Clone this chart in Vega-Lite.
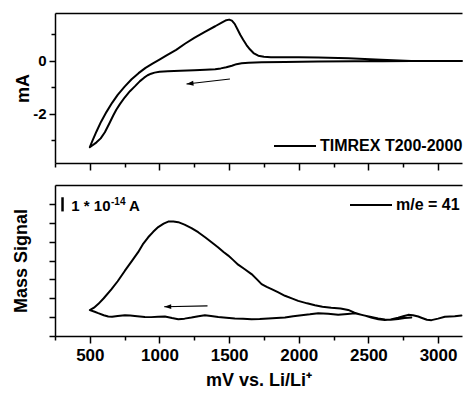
{
  "$schema": "https://vega.github.io/schema/vega-lite/v6.json",
  "padding": {"left": 12, "top": 13, "right": 0, "bottom": 2},
  "background": "white",
  "config": {
    "view": {"stroke": null},
    "font": "Liberation Sans",
    "axis": {
      "domainColor": "black", "domainWidth": 1.5, "tickColor": "black", "tickWidth": 1.5,
      "labelColor": "black", "labelFont": "Liberation Sans", "labelFontWeight": "bold",
      "titleFont": "Liberation Sans", "titleFontWeight": "bold", "titleColor": "black", "grid": false
    },
    "legend": {
      "symbolType": "stroke", "symbolStrokeWidth": 2, "symbolSize": 1764, "symbolStrokeColor": "black",
      "labelFont": "Liberation Sans", "labelFontWeight": "bold", "labelFontSize": 16, "labelColor": "black",
      "padding": 0, "labelOffset": 3
    }
  },
  "datasets": {
    "cv": [
      {"mV": 3172, "mA": 0.0}, {"mV": 3000, "mA": 0.0}, {"mV": 2808, "mA": 0.0}, {"mV": 2600, "mA": -0.01},
      {"mV": 2400, "mA": -0.01}, {"mV": 2140, "mA": -0.02}, {"mV": 1900, "mA": -0.04}, {"mV": 1733, "mA": -0.05},
      {"mV": 1640, "mA": -0.07}, {"mV": 1590, "mA": -0.09}, {"mV": 1553, "mA": -0.12}, {"mV": 1520, "mA": -0.18},
      {"mV": 1480, "mA": -0.24}, {"mV": 1440, "mA": -0.28}, {"mV": 1400, "mA": -0.31}, {"mV": 1330, "mA": -0.33},
      {"mV": 1250, "mA": -0.35}, {"mV": 1150, "mA": -0.37}, {"mV": 1060, "mA": -0.39}, {"mV": 1000, "mA": -0.41},
      {"mV": 965, "mA": -0.44}, {"mV": 940, "mA": -0.48}, {"mV": 915, "mA": -0.54}, {"mV": 890, "mA": -0.63},
      {"mV": 860, "mA": -0.76}, {"mV": 825, "mA": -0.95}, {"mV": 788, "mA": -1.14}, {"mV": 750, "mA": -1.38},
      {"mV": 716, "mA": -1.63}, {"mV": 690, "mA": -1.84}, {"mV": 668, "mA": -2.06}, {"mV": 640, "mA": -2.36},
      {"mV": 608, "mA": -2.69}, {"mV": 578, "mA": -2.92}, {"mV": 548, "mA": -3.07}, {"mV": 520, "mA": -3.18},
      {"mV": 500, "mA": -3.25},
      {"mV": 520, "mA": -3.0}, {"mV": 548, "mA": -2.66}, {"mV": 580, "mA": -2.3}, {"mV": 620, "mA": -1.92},
      {"mV": 660, "mA": -1.58}, {"mV": 700, "mA": -1.28}, {"mV": 750, "mA": -0.97}, {"mV": 800, "mA": -0.69},
      {"mV": 850, "mA": -0.46}, {"mV": 900, "mA": -0.26}, {"mV": 950, "mA": -0.1}, {"mV": 1000, "mA": 0.05},
      {"mV": 1051, "mA": 0.21}, {"mV": 1120, "mA": 0.42}, {"mV": 1183, "mA": 0.65}, {"mV": 1250, "mA": 0.87},
      {"mV": 1326, "mA": 1.1}, {"mV": 1400, "mA": 1.31}, {"mV": 1450, "mA": 1.46}, {"mV": 1480, "mA": 1.54},
      {"mV": 1500, "mA": 1.56}, {"mV": 1520, "mA": 1.52}, {"mV": 1540, "mA": 1.4}, {"mV": 1560, "mA": 1.2},
      {"mV": 1580, "mA": 0.99}, {"mV": 1601, "mA": 0.8}, {"mV": 1625, "mA": 0.6}, {"mV": 1649, "mA": 0.44},
      {"mV": 1675, "mA": 0.3}, {"mV": 1709, "mA": 0.2}, {"mV": 1750, "mA": 0.16}, {"mV": 1800, "mA": 0.14},
      {"mV": 1900, "mA": 0.14}, {"mV": 2000, "mA": 0.14}, {"mV": 2140, "mA": 0.13}, {"mV": 2355, "mA": 0.1},
      {"mV": 2592, "mA": 0.05}, {"mV": 2808, "mA": 0.0}
    ],
    "ms": [
      {"mV": 3168, "sig": 1.08}, {"mV": 3120, "sig": 1.05}, {"mV": 3049, "sig": 1.02}, {"mV": 3000, "sig": 0.92},
      {"mV": 2953, "sig": 0.84}, {"mV": 2920, "sig": 0.86}, {"mV": 2880, "sig": 0.97}, {"mV": 2858, "sig": 1.03},
      {"mV": 2820, "sig": 1.1}, {"mV": 2786, "sig": 1.12}, {"mV": 2750, "sig": 1.05}, {"mV": 2714, "sig": 0.97},
      {"mV": 2660, "sig": 0.88}, {"mV": 2618, "sig": 0.85}, {"mV": 2571, "sig": 0.89}, {"mV": 2520, "sig": 0.98},
      {"mV": 2475, "sig": 1.08}, {"mV": 2403, "sig": 1.2}, {"mV": 2350, "sig": 1.17}, {"mV": 2283, "sig": 1.12},
      {"mV": 2211, "sig": 1.18}, {"mV": 2140, "sig": 1.21}, {"mV": 2080, "sig": 1.15}, {"mV": 2020, "sig": 1.1},
      {"mV": 1960, "sig": 1.05}, {"mV": 1901, "sig": 0.98}, {"mV": 1840, "sig": 0.95}, {"mV": 1781, "sig": 0.93},
      {"mV": 1720, "sig": 0.9}, {"mV": 1661, "sig": 0.89}, {"mV": 1600, "sig": 0.91}, {"mV": 1541, "sig": 0.93},
      {"mV": 1480, "sig": 0.97}, {"mV": 1422, "sig": 1.01}, {"mV": 1370, "sig": 1.06}, {"mV": 1326, "sig": 1.1},
      {"mV": 1280, "sig": 1.05}, {"mV": 1230, "sig": 0.98}, {"mV": 1180, "sig": 0.92}, {"mV": 1135, "sig": 0.89},
      {"mV": 1090, "sig": 0.95}, {"mV": 1039, "sig": 1.03}, {"mV": 990, "sig": 1.02}, {"mV": 940, "sig": 1.0},
      {"mV": 895, "sig": 1.01}, {"mV": 840, "sig": 1.05}, {"mV": 790, "sig": 1.08}, {"mV": 752, "sig": 1.1},
      {"mV": 700, "sig": 1.06}, {"mV": 660, "sig": 1.02}, {"mV": 632, "sig": 1.03}, {"mV": 600, "sig": 1.1},
      {"mV": 560, "sig": 1.21}, {"mV": 530, "sig": 1.3}, {"mV": 500, "sig": 1.37},
      {"mV": 530, "sig": 1.5}, {"mV": 560, "sig": 1.69}, {"mV": 600, "sig": 2.0}, {"mV": 656, "sig": 2.48},
      {"mV": 700, "sig": 2.9}, {"mV": 752, "sig": 3.46}, {"mV": 800, "sig": 3.95}, {"mV": 847, "sig": 4.44},
      {"mV": 880, "sig": 4.85}, {"mV": 919, "sig": 5.23}, {"mV": 955, "sig": 5.52}, {"mV": 991, "sig": 5.77},
      {"mV": 1030, "sig": 5.95}, {"mV": 1063, "sig": 6.06}, {"mV": 1100, "sig": 6.06}, {"mV": 1135, "sig": 6.03},
      {"mV": 1180, "sig": 5.9}, {"mV": 1230, "sig": 5.72}, {"mV": 1278, "sig": 5.5}, {"mV": 1330, "sig": 5.22},
      {"mV": 1374, "sig": 4.97}, {"mV": 1420, "sig": 4.7}, {"mV": 1460, "sig": 4.45}, {"mV": 1494, "sig": 4.26},
      {"mV": 1530, "sig": 4.02}, {"mV": 1565, "sig": 3.78}, {"mV": 1610, "sig": 3.55}, {"mV": 1661, "sig": 3.28},
      {"mV": 1700, "sig": 3.0}, {"mV": 1733, "sig": 2.75}, {"mV": 1770, "sig": 2.6}, {"mV": 1805, "sig": 2.48},
      {"mV": 1850, "sig": 2.32}, {"mV": 1901, "sig": 2.13}, {"mV": 1950, "sig": 1.99}, {"mV": 1996, "sig": 1.86},
      {"mV": 2060, "sig": 1.73}, {"mV": 2116, "sig": 1.63}, {"mV": 2170, "sig": 1.55}, {"mV": 2233, "sig": 1.5},
      {"mV": 2300, "sig": 1.46}, {"mV": 2355, "sig": 1.38}, {"mV": 2400, "sig": 1.24}, {"mV": 2451, "sig": 1.12},
      {"mV": 2520, "sig": 1.01}, {"mV": 2570, "sig": 0.93}, {"mV": 2618, "sig": 0.87}, {"mV": 2660, "sig": 0.86},
      {"mV": 2714, "sig": 0.9}, {"mV": 2760, "sig": 0.95}, {"mV": 2808, "sig": 0.98}
    ]
  },
  "bounds": "flush",
  "spacing": 22,
  "resolve": {"scale": {"color": "independent"}},
  "vconcat": [
    {
      "width": 407,
      "height": 150,
      "resolve": {"axis": {"x": "independent", "y": "independent"}},
      "layer": [
        {
          "data": {"name": "cv"},
          "mark": {"type": "line", "strokeWidth": 2, "strokeJoin": "round", "strokeCap": "round"},
          "encoding": {
            "x": {
              "field": "mV", "type": "quantitative",
              "scale": {"domain": [250, 3172], "nice": false, "zero": false},
              "axis": {
                "orient": "bottom", "values": [250, 500, 750, 1000, 1250, 1500, 1750, 2000, 2250, 2500, 2750, 3000],
                "labels": false, "title": null,
                "tickSize": {"condition": {"test": "datum.value % 500 === 0", "value": 7}, "value": 4}
              }
            },
            "y": {
              "field": "mA", "type": "quantitative",
              "scale": {"domain": [-3.85, 1.81], "nice": false, "zero": false},
              "axis": {
                "orient": "left",
                "values": [-3, -2, -1, 0, 1],
                "labelExpr": "datum.value === 0 ? '0' : (datum.value === -2 ? '-2' : '')",
                "labelFontSize": 15, "labelPadding": 3,
                "tickSize": {"condition": {"test": "datum.value === 0 || datum.value === -2", "value": 6}, "value": 4},
                "title": "mA", "titleFontSize": 18, "titlePadding": 0
              }
            },
            "color": {"datum": "TIMREX T200-2000", "scale": {"range": ["black"]},
              "legend": {"title": null, "orient": "none", "legendX": 218, "legendY": 111}},
            "order": {"value": null}
          }
        },
        {
          "data": {"values": [{}]},
          "mark": {"type": "rule", "color": "black", "strokeWidth": 1.2},
          "encoding": {
            "x": {"datum": 1506, "type": "quantitative", "scale": {"domain": [250, 3172], "nice": false, "zero": false},
              "axis": {"orient": "top", "ticks": false, "labels": false, "title": null, "domain": true}},
            "y": {"datum": -0.68, "type": "quantitative", "axis": null},
            "x2": {"datum": 1194},
            "y2": {"datum": -0.87}
          }
        },
        {
          "data": {"values": [{}]},
          "mark": {"type": "point", "shape": "M0,0L2,-0.7L2,0.7Z", "filled": true, "color": "black", "opacity": 1, "size": 49, "angle": 353.4},
          "encoding": {
            "x": {"datum": 1194, "type": "quantitative", "axis": null},
            "y": {"datum": -0.87, "type": "quantitative", "axis": null}
          }
        }
      ]
    },
    {
      "width": 407,
      "height": 151,
      "resolve": {"axis": {"x": "independent", "y": "independent"}},
      "layer": [
        {
          "data": {"name": "ms"},
          "mark": {"type": "line", "strokeWidth": 2, "strokeJoin": "round", "strokeCap": "round"},
          "encoding": {
            "x": {
              "field": "mV", "type": "quantitative",
              "scale": {"domain": [250, 3172], "nice": false, "zero": false},
              "axis": {
                "orient": "bottom", "values": [250, 500, 750, 1000, 1250, 1500, 1750, 2000, 2250, 2500, 2750, 3000],
                "format": "d",
                "labelExpr": "datum.value % 500 === 0 ? datum.label : ''",
                "labelFontSize": 17, "labelPadding": 4,
                "tickSize": {"condition": {"test": "datum.value % 500 === 0", "value": 7}, "value": 4},
                "title": "mV vs. Li/Li⁺", "titleFontSize": 18, "titlePadding": 8
              }
            },
            "y": {
              "field": "sig", "type": "quantitative",
              "scale": {"domain": [0, 8], "nice": false, "zero": false},
              "axis": {
                "orient": "left",
                "values": [0, 1, 2, 3, 4, 5, 6, 7],
                "labels": false, "tickSize": 6,
                "title": "Mass Signal", "titleFontSize": 18, "titlePadding": 18
              }
            },
            "color": {"datum": "m/e = 41", "scale": {"range": ["black"]},
              "legend": {"title": null, "orient": "none", "legendX": 294, "legendY": -2}},
            "order": {"value": null}
          }
        },
        {
          "data": {"values": [{}]},
          "mark": {"type": "rule", "color": "black", "strokeWidth": 2.5},
          "encoding": {
            "x": {"datum": 304, "type": "quantitative", "scale": {"domain": [250, 3172], "nice": false, "zero": false},
              "axis": {"orient": "top", "ticks": false, "labels": false, "title": null, "domain": true}},
            "y": {"datum": 6.6, "type": "quantitative", "axis": null},
            "y2": {"datum": 7.35}
          }
        },
        {
          "data": {"values": [{}]},
          "mark": {"type": "text", "text": "1 * 10", "align": "left", "baseline": "alphabetic", "font": "Liberation Sans", "fontWeight": "bold", "fontSize": 15, "color": "black"},
          "encoding": {
            "x": {"datum": 367, "type": "quantitative", "axis": null},
            "y": {"datum": 6.6, "type": "quantitative", "axis": null}
          }
        },
        {
          "data": {"values": [{}]},
          "mark": {"type": "text", "text": "-14", "align": "left", "baseline": "alphabetic", "dy": -6, "font": "Liberation Sans", "fontWeight": "bold", "fontSize": 10, "color": "black"},
          "encoding": {
            "x": {"datum": 652, "type": "quantitative", "axis": null},
            "y": {"datum": 6.6, "type": "quantitative", "axis": null}
          }
        },
        {
          "data": {"values": [{}]},
          "mark": {"type": "text", "text": "A", "align": "left", "baseline": "alphabetic", "font": "Liberation Sans", "fontWeight": "bold", "fontSize": 15, "color": "black"},
          "encoding": {
            "x": {"datum": 781, "type": "quantitative", "axis": null},
            "y": {"datum": 6.6, "type": "quantitative", "axis": null}
          }
        },
        {
          "data": {"values": [{}]},
          "mark": {"type": "rule", "color": "black", "strokeWidth": 1.2},
          "encoding": {
            "x": {"datum": 1345, "type": "quantitative", "axis": null},
            "y": {"datum": 1.6, "type": "quantitative", "axis": null},
            "x2": {"datum": 1034},
            "y2": {"datum": 1.55}
          }
        },
        {
          "data": {"values": [{}]},
          "mark": {"type": "point", "shape": "M0,0L2,-0.7L2,0.7Z", "filled": true, "color": "black", "opacity": 1, "size": 49, "angle": 358.7},
          "encoding": {
            "x": {"datum": 1034, "type": "quantitative", "axis": null},
            "y": {"datum": 1.55, "type": "quantitative", "axis": null}
          }
        }
      ]
    }
  ]
}
